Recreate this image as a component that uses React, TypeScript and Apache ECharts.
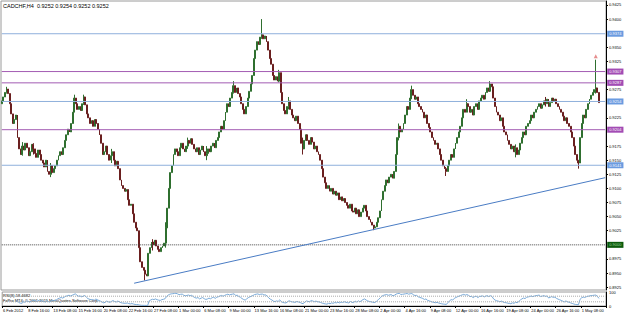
import React, { useEffect, useRef } from "react";
import * as echarts from "echarts";

const HEADER_TEXT = "CADCHF,H4  0.9252 0.9254 0.9252 0.9252";
const RSI_TEXT = "RSI(8) 58.4682";
const COPYRIGHT_TEXT = "FxPro MT4: \u00a9 2001-2011 MetaQuotes Software Corp.";

// closes per H4 bar, in pips (0.9252 -> 9252)
const closes = [
  9255, 9262, 9270, 9276,
  9268, 9250, 9232, 9215, 9222, 9230,
  9190, 9170,
  9160, 9175, 9168, 9180, 9172, 9158, 9165, 9178, 9170, 9162, 9155, 9168, 9160, 9150,
  9145, 9138, 9150, 9130, 9125, 9140, 9128, 9135,
  9140, 9150, 9158, 9165, 9160, 9172, 9185, 9195, 9205, 9200, 9215, 9235, 9260,
  9250, 9240, 9245, 9238, 9250, 9262,
  9248, 9232, 9225, 9215, 9220, 9210, 9222, 9215, 9205, 9195, 9180, 9160,
  9165, 9175, 9160, 9150, 9158, 9165, 9150, 9140, 9148, 9135,
  9115, 9105, 9100, 9095, 9098, 9080, 9070, 9072, 9055, 9040,
  9030, 9025, 8995, 8970, 8960, 8955, 8948, 8945,
  8985, 8995, 9005, 9000, 9008, 8998, 8992, 8988, 8995,
  8998, 9003, 9030, 9065, 9100, 9128,
  9140, 9160, 9170, 9165, 9158, 9172, 9180, 9170, 9165, 9175, 9185, 9180, 9188,
  9178, 9170, 9165, 9172, 9160, 9168, 9175, 9165, 9158, 9162, 9170, 9165, 9175, 9180, 9172, 9185,
  9190, 9200, 9210, 9205, 9220, 9235, 9250, 9245, 9260, 9270,
  9282, 9270, 9278, 9268, 9262, 9250, 9240, 9232,
  9245, 9260, 9272, 9285, 9300, 9330,
  9345, 9360, 9355, 9368, 9372,
  9365, 9370, 9360,
  9345, 9330, 9320,
  9300, 9292, 9298, 9290, 9305,
  9270, 9250, 9238,
  9232, 9245, 9255, 9240, 9230,
  9225, 9220, 9228, 9215, 9205,
  9180, 9170, 9185,
  9195, 9185, 9178, 9190, 9182, 9170, 9175, 9165, 9160, 9150,
  9135, 9120, 9110, 9100, 9105, 9095, 9100, 9090,
  9095, 9088, 9092, 9080, 9085, 9078, 9082, 9075, 9070,
  9065, 9072, 9060, 9058, 9065, 9055, 9062, 9050, 9058,
  9065, 9070, 9060, 9050, 9045, 9040, 9035, 9030, 9032,
  9040, 9048, 9060, 9080, 9095,
  9105, 9115, 9110, 9120, 9125, 9118, 9130,
  9160, 9190, 9210, 9200,
  9205, 9215, 9230, 9245, 9240, 9260, 9275,
  9265, 9258, 9262, 9250, 9245, 9240,
  9235, 9225, 9230, 9215, 9208, 9200,
  9190, 9185, 9178, 9180,
  9170, 9160, 9150, 9140, 9135, 9130,
  9140, 9150, 9160, 9155, 9170, 9180, 9190, 9200,
  9210, 9225, 9240, 9235, 9250, 9245,
  9235, 9240, 9230, 9245, 9250, 9240, 9255,
  9260, 9265, 9258, 9270, 9278, 9272, 9285, 9280,
  9260, 9245, 9235, 9230, 9220, 9225,
  9210, 9200, 9195, 9185, 9178, 9170, 9175,
  9165, 9172, 9160, 9168,
  9180, 9190, 9200, 9195, 9210, 9215, 9220, 9230, 9225, 9235,
  9240, 9245, 9250, 9242, 9248, 9255, 9250, 9258, 9245, 9252, 9260, 9255,
  9258, 9250, 9245, 9240, 9235, 9228,
  9220, 9225, 9215, 9210,
  9200, 9190, 9175, 9160, 9150, 9145,
  9190, 9215, 9230, 9225,
  9240, 9250, 9258, 9265, 9270, 9275,
  9278, 9270, 9252,
];
const firstOpen = 9250;

// notable wicks: [bar, high, low]
const wicks = [
  [3, 9280, 9268],
  [13, 9182, 9158],
  [20, 9180, 9160],
  [31, 9145, 9120],
  [46, 9266, 9235],
  [52, 9266, 9248],
  [70, 9170, 9145],
  [91, 8952, 8937],
  [96, 9010, 8990],
  [104, 9040, 8995],
  [118, 9190, 9170],
  [130, 9175, 9150],
  [147, 9290, 9268],
  [165, 9400, 9365],
  [176, 9310, 9288],
  [182, 9262, 9240],
  [191, 9190, 9160],
  [236, 9035, 9026],
  [252, 9215, 9185],
  [260, 9282, 9258],
  [282, 9138, 9122],
  [295, 9258, 9235],
  [310, 9290, 9275],
  [326, 9178, 9155],
  [345, 9262, 9245],
  [366, 9150, 9135],
  [377, 9328, 9268],
];

const xLabels = [
  "6 Feb 2012", "8 Feb 16:00", "13 Feb 08:00", "15 Feb 16:00", "20 Feb 08:00", "22 Feb 16:00",
  "27 Feb 08:00", "1 Mar 00:00", "6 Mar 08:00", "9 Mar 00:00", "13 Mar 16:00", "16 Mar 08:00",
  "21 Mar 00:00", "23 Mar 16:00", "28 Mar 08:00", "2 Apr 00:00", "4 Apr 16:00", "9 Apr 08:00",
  "12 Apr 00:00", "16 Apr 16:00", "19 Apr 08:00", "24 Apr 00:00", "26 Apr 16:00", "1 May 08:00",
];
const LABEL_STEP = 16;
const TOTAL_SLOTS = 384;

const priceTicks = [9425, 9400, 9350, 9325, 9275, 9225, 9175, 9150, 9125, 9100, 9075, 9050, 9025, 8975, 8950, 8925];
const blueLevels = [9374, 9254, 9141];
const purpleLevels = [9307, 9287, 9204];
const dottedLevel = [9000];
const trendLine = [[84, 8932], [383, 9119]];
const arrowMark = [[377, 9334]];
const rsiLevels = [70, 30];

const FONT = "Liberation Sans";

function computeRsi(vals: number[], n: number) {
  const out: (number | string)[] = [];
  let ag = 0, al = 0;
  out.push("-");
  for (let i = 1; i < vals.length; i++) {
    const d = vals[i] - vals[i - 1];
    const g = d > 0 ? d : 0;
    const l = d < 0 ? -d : 0;
    if (i <= n) {
      ag += g / n;
      al += l / n;
      out.push(i === n ? 100 - 100 / (1 + ag / (al || 1e-9)) : "-");
    } else {
      ag = (ag * (n - 1) + g) / n;
      al = (al * (n - 1) + l) / n;
      out.push(100 - 100 / (1 + ag / (al || 1e-9)));
    }
  }
  return out;
}

export default function App() {
  const ref = useRef<HTMLDivElement>(null);
  useEffect(() => {
    if (!ref.current) return;
    const chart = echarts.init(ref.current, undefined, { renderer: "svg" });
    const cats = Array.from({ length: TOTAL_SLOTS }, (_, i) => String(i));
    const wickMap: Record<number, number[]> = {};
    wicks.forEach((w) => (wickMap[w[0]] = [w[1], w[2]]));
    const candles = closes.map((c, i) => {
      const o = i === 0 ? firstOpen : closes[i - 1];
      const w = wickMap[i];
      const hi = w ? w[0] : Math.max(o, c);
      const lo = w ? w[1] : Math.min(o, c);
      return [o, c, lo, hi];
    });
    const rsi = computeRsi(closes, 8);
    const fmt = (v: number) => (v / 10000).toFixed(4);
    const levelSeries = (v: number, line: string, bg: string, type: any, fg: string) => ({
      type: "line", xAxisIndex: 0, yAxisIndex: 0, symbol: "none", silent: true,
      data: [[0, v], [TOTAL_SLOTS - 1, v]],
      lineStyle: { color: line, width: 1, type },
      endLabel: {
        show: true, distance: 2,
        formatter: () => fmt(v),
        backgroundColor: bg, color: fg, fontSize: 4, fontFamily: FONT, padding: [1, 2, 1, 2],
      },
    });
    chart.setOption({
      animation: false,
      backgroundColor: "#ffffff",
      grid: [
        { left: 1, right: 19, top: 1, height: 289, show: true, borderColor: "#9a9a9a", borderWidth: 1 },
        { left: 1, right: 19, top: 292, height: 14, show: true, borderColor: "#9a9a9a", borderWidth: 1 },
      ],
      xAxis: [
        {
          type: "category", gridIndex: 0, data: cats, boundaryGap: true,
          axisLine: { show: false }, axisTick: { show: false }, axisLabel: { show: false }, splitLine: { show: false },
        },
        {
          type: "category", gridIndex: 1, data: cats, boundaryGap: true,
          axisLine: { show: true, lineStyle: { color: "#000", width: 1 } },
          axisTick: { show: true, interval: LABEL_STEP - 1, length: 2, lineStyle: { color: "#000" } },
          axisLabel: {
            show: true, interval: LABEL_STEP - 1, fontSize: 4, fontFamily: FONT, color: "#000",
            align: "left", margin: 2, hideOverlap: false,
            formatter: (v: string) => {
              const i = Number(v);
              return i % LABEL_STEP === 0 ? xLabels[i / LABEL_STEP] || "" : "";
            },
          },
          splitLine: { show: false },
        },
      ],
      yAxis: [
        {
          type: "value", gridIndex: 0, position: "right", min: 8920, max: 9432, scale: true,
          axisLine: { show: true, lineStyle: { color: "#000", width: 1 } },
          axisTick: { show: true, length: 2, customValues: priceTicks, lineStyle: { color: "#000" } },
          axisLabel: {
            show: true, customValues: priceTicks, fontSize: 4, fontFamily: FONT, color: "#000", margin: 3,
            formatter: (v: number) => fmt(v),
          },
          splitLine: { show: false },
        },
        {
          type: "value", gridIndex: 1, position: "right", min: 0, max: 100,
          axisLine: { show: true, lineStyle: { color: "#000", width: 1 } },
          axisTick: { show: false },
          axisLabel: {
            show: true, customValues: [100, 0], fontSize: 4, fontFamily: FONT, color: "#000", margin: 3,
            formatter: (v: number) => String(v),
          },
          splitLine: { show: false },
        },
      ],
      series: [
        ...blueLevels.map((v) => levelSeries(v, "#8fb0dc", "#6b9be0", "solid", "#ffffff")),
        ...purpleLevels.map((v) => levelSeries(v, "#a35cb3", "#a24cb4", "solid", "#ffffff")),
        ...dottedLevel.map((v) => levelSeries(v, "#444444", "#0b5a0b", "dotted", "#9fd89f")),
        {
          type: "line", xAxisIndex: 0, yAxisIndex: 0, data: trendLine, symbol: "none", silent: true,
          lineStyle: { color: "#4a7cc4", width: 1 },
        },
        {
          type: "candlestick", xAxisIndex: 0, yAxisIndex: 0, data: candles, barWidth: 1.4,
          itemStyle: {
            color: "#3f8a3f", color0: "#7a2626", borderColor: "#2f6f2f", borderColor0: "#6a1f1f", borderWidth: 1,
          },
        },
        {
          type: "scatter", xAxisIndex: 0, yAxisIndex: 0, data: arrowMark, symbol: "triangle", symbolSize: 4,
          itemStyle: { color: "#e07070" },
        },
        {
          type: "line", xAxisIndex: 1, yAxisIndex: 1, data: rsi, symbol: "none",
          lineStyle: { color: "#7aaad8", width: 1 },
        },
        ...rsiLevels.map((v) => ({
          type: "line", xAxisIndex: 1, yAxisIndex: 1, symbol: "none", silent: true,
          data: [[0, v], [TOTAL_SLOTS - 1, v]],
          lineStyle: { color: "#aaaaaa", width: 1, type: "dotted" },
        })),
      ],
      graphic: [
        { type: "text", left: 3, top: 3, style: { text: HEADER_TEXT, fontSize: 5.5, fontFamily: FONT, fill: "#000" } },
        { type: "text", left: 3, top: 293, style: { text: RSI_TEXT, fontSize: 4, fontFamily: FONT, fill: "#000" } },
        { type: "text", left: 3, top: 298, style: { text: COPYRIGHT_TEXT, fontSize: 4, fontFamily: FONT, fill: "#000" } },
      ],
    });
    return () => chart.dispose();
  }, []);
  return <div ref={ref} style={{ width: 625, height: 313, position: "absolute", left: 0, top: 0 }} />;
}
